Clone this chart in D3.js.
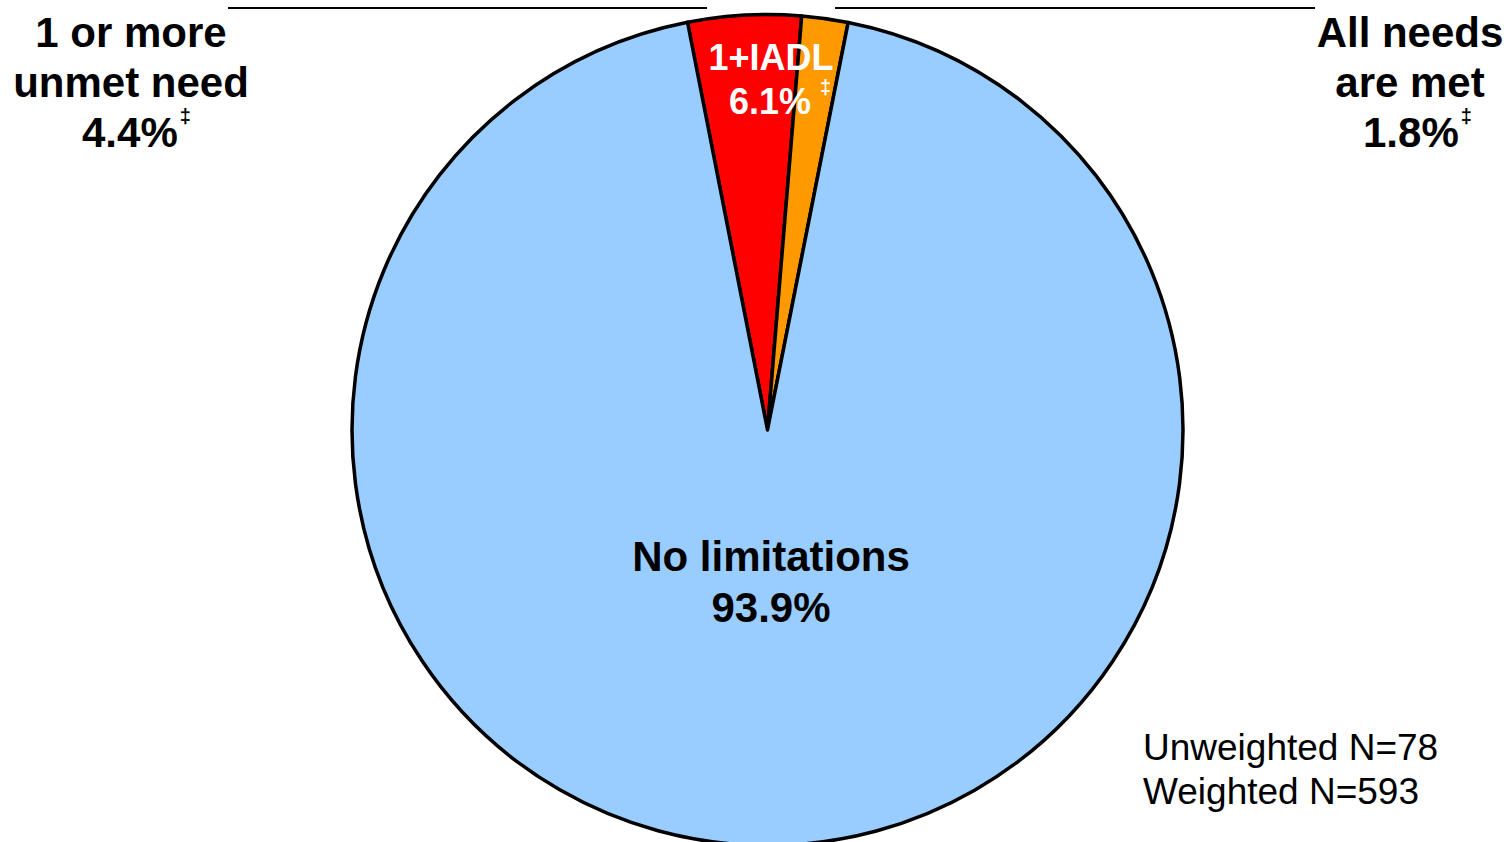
<!DOCTYPE html>
<html><head><meta charset="utf-8">
<script src="https://cdn.jsdelivr.net/npm/d3@7"></script>
<style>html,body{margin:0;padding:0;background:#fff;overflow:hidden}svg{display:block;font-family:"Liberation Sans",Arial,sans-serif}</style>
</head><body>
<svg id="chart" width="1509" height="842"></svg>
<script>
const categories = ["1 or more unmet need", "All needs are met", "No limitations"];
const values = [4.4, 1.8, 93.9];
const colors = ["#FF0000", "#FF9900", "#99CCFF"];
const notes = ["Unweighted N=78", "Weighted N=593"];

const svg = d3.select("#chart");
const cx = 767.5, cy = 430, r = 415.5;
const start = -11.1 * Math.PI / 180;

const pie = d3.pie().sort(null).value(d => d).startAngle(start).endAngle(start + 2 * Math.PI);
const arc = d3.arc().innerRadius(0).outerRadius(r);
const g = svg.append("g").attr("transform", `translate(${cx},${cy})`);
g.selectAll("path").data(pie(values)).join("path")
  .attr("d", arc)
  .attr("fill", (d, i) => colors[i])
  .attr("stroke", "#000").attr("stroke-width", 3.5).attr("stroke-linejoin", "round");

// bracket lines
svg.append("line").attr("x1", 228).attr("x2", 707).attr("y1", 8).attr("y2", 8).attr("stroke", "#000").attr("stroke-width", 2);
svg.append("line").attr("x1", 835).attr("x2", 1315).attr("y1", 8).attr("y2", 8).attr("stroke", "#000").attr("stroke-width", 2);

function block(x, lines, y0, dy, size, color, weight) {
  const t = svg.append("text").attr("text-anchor", "middle").attr("font-size", size)
    .attr("font-weight", weight).attr("fill", color);
  lines.forEach((l, i) => {
    t.append("tspan").attr("x", x).attr("y", y0 + i * dy).text(l);
  });
  return t;
}

const fmt = v => v.toFixed(1) + "%";
// left label
block(131, ["1 or more", "unmet need"], 47, 50, 42, "#000", "bold");
const l3 = svg.append("text").attr("x", 82).attr("y", 147).attr("font-size", 42).attr("font-weight", "bold");
l3.append("tspan").text(fmt(values[0]));
l3.append("tspan").attr("font-size", 20).attr("dy", -24).attr("dx", 2).text("‡");
// right label
block(1410, ["All needs", "are met"], 47, 50, 42, "#000", "bold");
const r3 = svg.append("text").attr("x", 1363).attr("y", 147).attr("font-size", 42).attr("font-weight", "bold");
r3.append("tspan").text(fmt(values[1]));
r3.append("tspan").attr("font-size", 20).attr("dy", -24).attr("dx", 2).text("‡");
// IADL label
const iadlTotal = 6.1;
svg.append("text").attr("x", 771).attr("y", 70).attr("text-anchor", "middle").attr("font-size", 36).attr("font-weight", "bold").attr("fill", "#fff").text("1+IADL");
const i2 = svg.append("text").attr("x", 729).attr("y", 114).attr("font-size", 36).attr("font-weight", "bold").attr("fill", "#fff");
i2.append("tspan").text(fmt(iadlTotal));
i2.append("tspan").attr("font-size", 20).attr("dy", -20).attr("dx", 9).text("‡");
// center label
block(771, ["No limitations", fmt(values[2])], 571, 51, 42, "#000", "bold");
// notes
svg.selectAll("text.note").data(notes).join("text").attr("class", "note")
  .attr("x", 1143).attr("y", (d, i) => 760 + i * 44).attr("font-size", 37).attr("fill", "#000").text(d => d);
</script>
</body></html>
